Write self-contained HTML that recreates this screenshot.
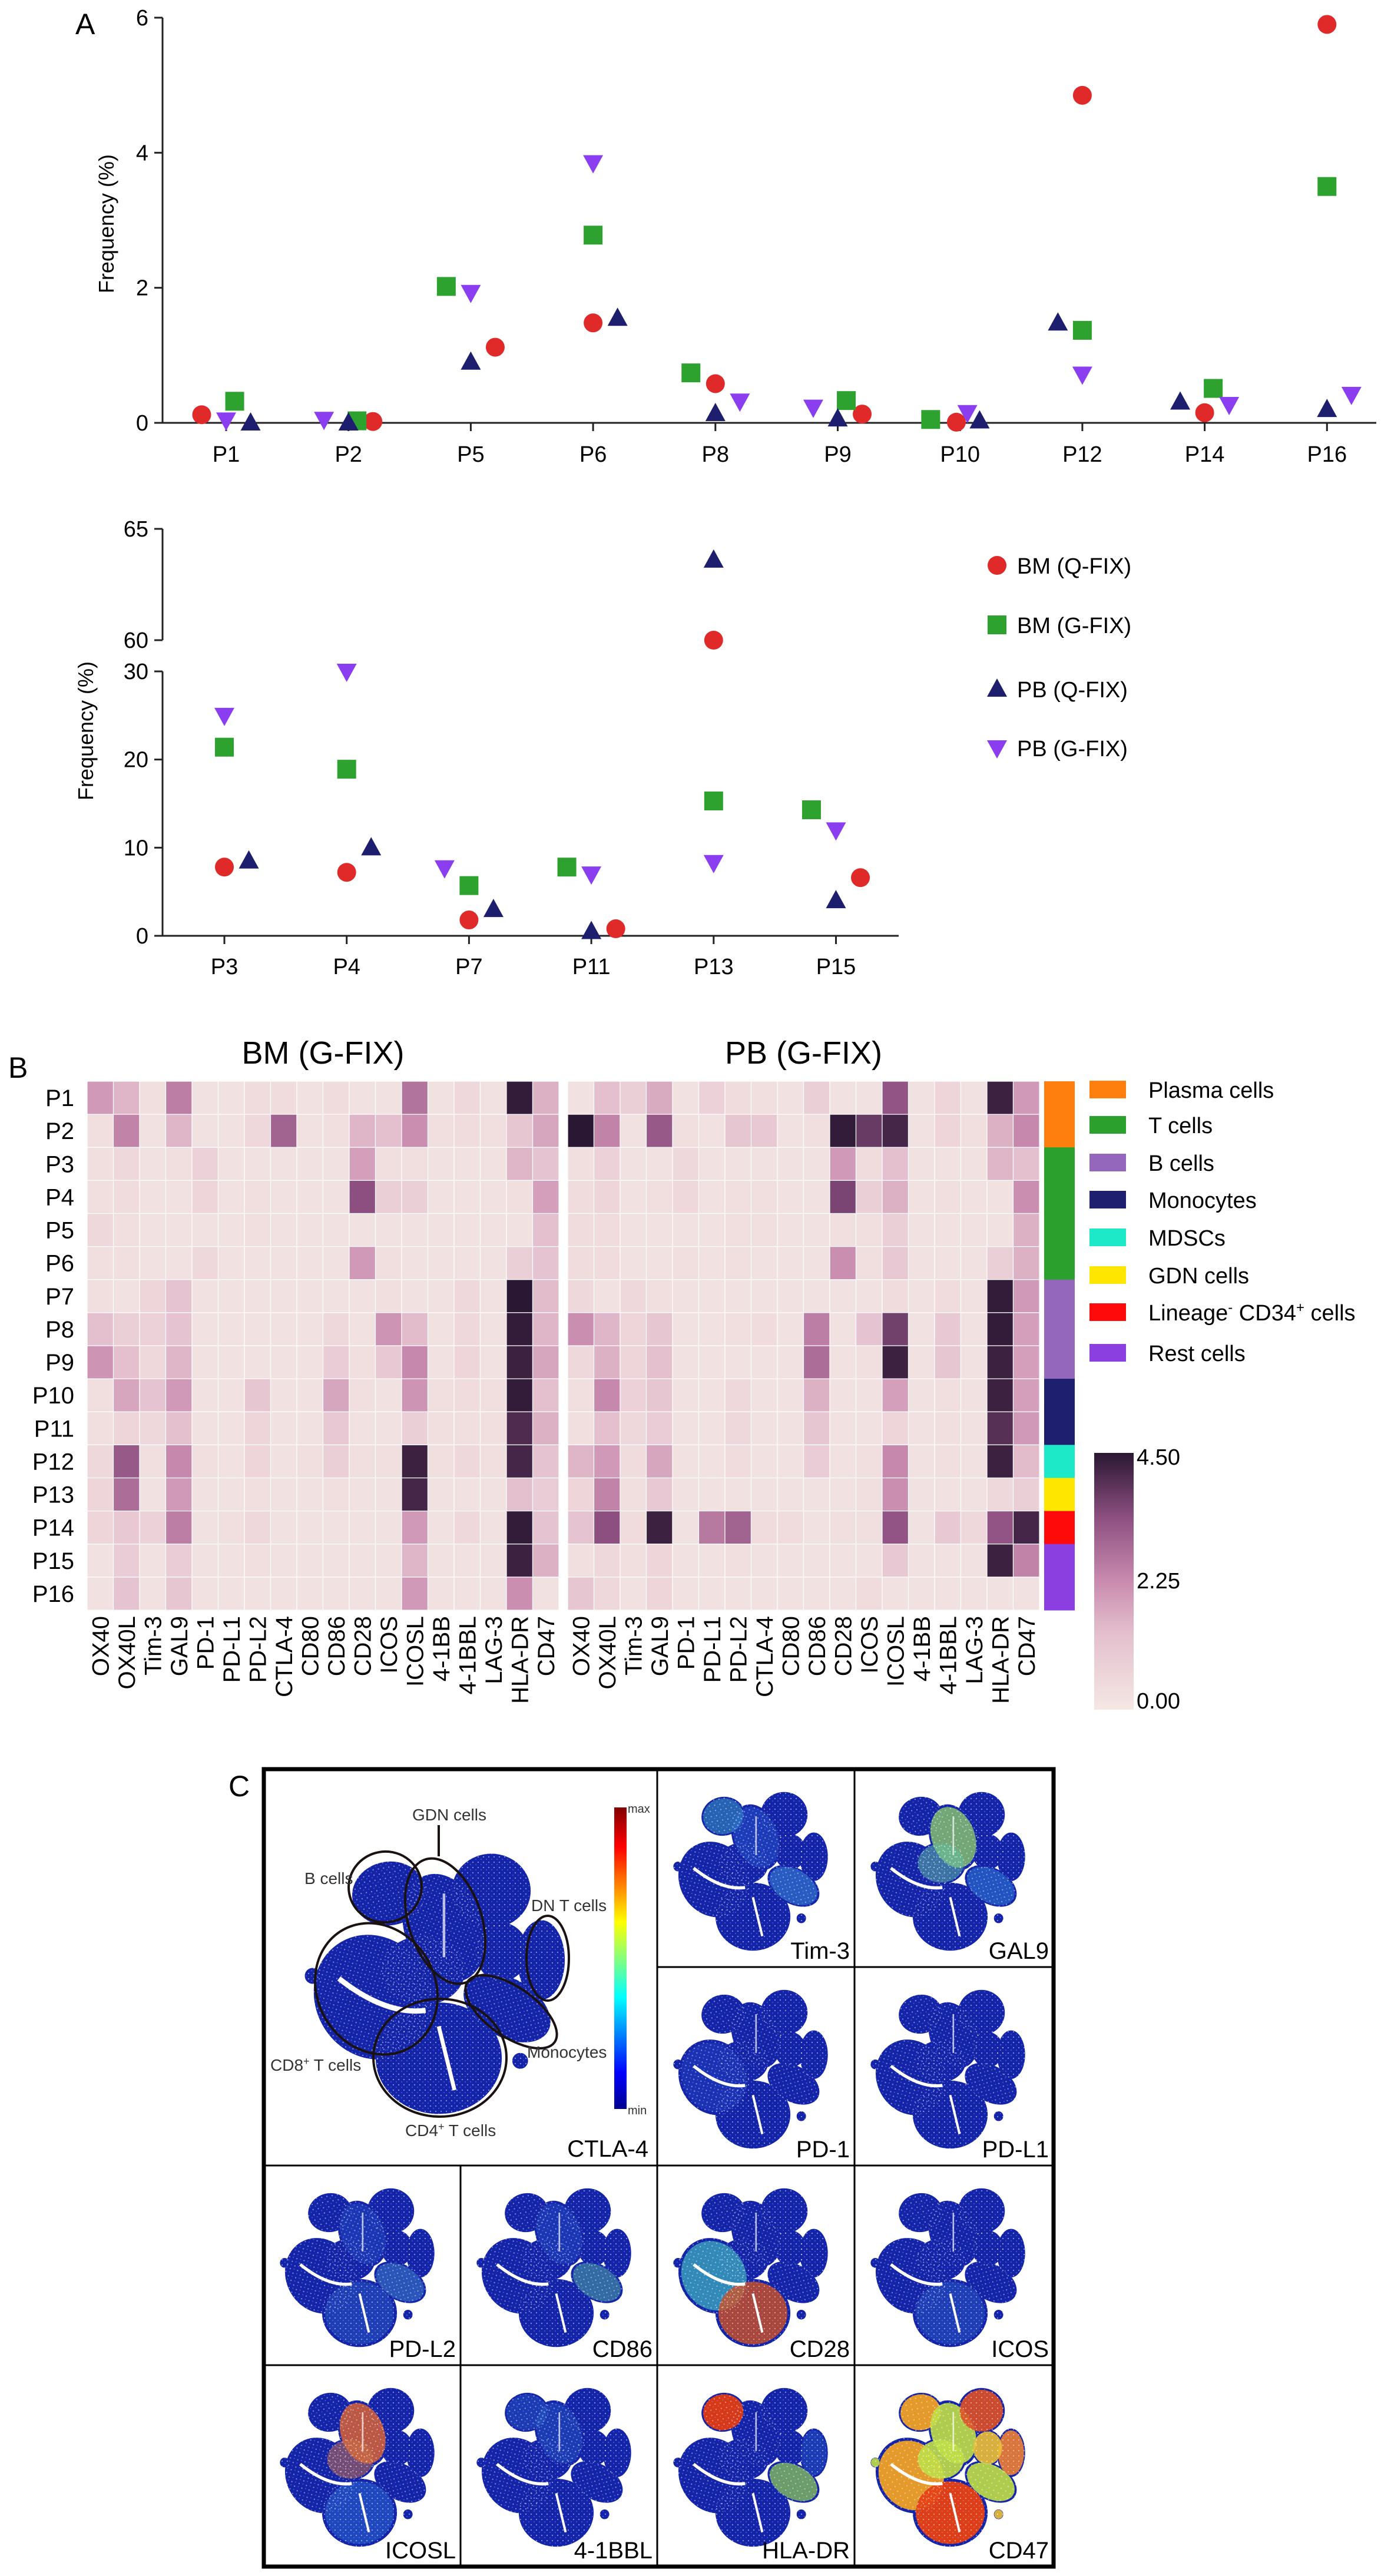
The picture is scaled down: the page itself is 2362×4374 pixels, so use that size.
<!DOCTYPE html>
<html><head><meta charset="utf-8"><style>
html,body{margin:0;padding:0;background:#fff;}
svg{display:block;font-family:"Liberation Sans",Arial,sans-serif;}
</style></head><body>
<svg id="fig" xmlns="http://www.w3.org/2000/svg" width="2362" height="4374" viewBox="0 0 2362 4374">
<defs>
<pattern id="speck" width="9" height="9" patternUnits="userSpaceOnUse"><rect width="9" height="9" fill="none"/><circle cx="2" cy="3" r="1.1" fill="#fff" opacity="0.5"/><circle cx="7" cy="7" r="0.9" fill="#9fb0ff" opacity="0.5"/></pattern>
<linearGradient id="jet" x1="0" y1="1" x2="0" y2="0"><stop offset="0" stop-color="#00008f"/><stop offset="0.12" stop-color="#0000ff"/><stop offset="0.37" stop-color="#00ffff"/><stop offset="0.62" stop-color="#ffff00"/><stop offset="0.87" stop-color="#ff0000"/><stop offset="1" stop-color="#800000"/></linearGradient>
<linearGradient id="heatbar" x1="0" y1="1" x2="0" y2="0"><stop offset="0" stop-color="#f5e7e4"/><stop offset="0.3" stop-color="#e3bfcd"/><stop offset="0.5" stop-color="#c98bae"/><stop offset="0.75" stop-color="#8c4f80"/><stop offset="1" stop-color="#2a1733"/></linearGradient>
</defs>
</svg>
<script>
// ---------- Panel A data ----------
const topCats = ["P1","P2","P5","P6","P8","P9","P10","P12","P14","P16"];
const topBMQ = [0.12,0.02,1.12,1.48,0.58,0.13,0.01,4.85,0.15,5.9];
const topBMG = [0.32,0.03,2.02,2.78,0.74,0.33,0.05,1.37,0.51,3.5];
const topPBQ = [0.0,0.0,0.9,1.55,0.14,0.06,0.03,1.48,0.31,0.2];
const topPBG = [0.04,0.05,1.93,3.85,0.32,0.23,0.15,0.72,0.27,0.42];
const topJitBMQ = [-0.2,0.2,0.2,0,0,0.2,-0.03,0,0,0];
const topJitBMG = [0.07,0.07,-0.2,0,-0.2,0.07,-0.24,0,0.07,0];
const topJitPBQ = [0.2,0,0,0.2,0,0,0.16,-0.2,-0.2,0];
const topJitPBG = [0,-0.2,0,0,0.2,-0.2,0.06,0,0.2,0.2];
const topTicks = [0,2,4,6];

const botCats = ["P3","P4","P7","P11","P13","P15"];
const botBMQ = [7.8,7.2,1.8,0.8,60,6.6];
const botBMG = [21.4,18.9,5.7,7.8,15.3,14.3];
const botPBQ = [8.5,10,3,0.5,63.6,4];
const botPBG = [25,30,7.7,7,8.3,12];
const botJitBMQ = [0,0,0,0.2,0,0.2];
const botJitBMG = [0,0,0,-0.2,0,-0.2];
const botJitPBQ = [0.2,0.2,0.2,0,0,0];
const botJitPBG = [0,0,-0.2,0,0,0];
const botTicksLow = [0,10,20,30];
const botTicksHigh = [60,65];

// ---------- Panel B data ----------
const markers = ["OX40","OX40L","Tim-3","GAL9","PD-1","PD-L1","PD-L2","CTLA-4","CD80","CD86","CD28","ICOS","ICOSL","4-1BB","4-1BBL","LAG-3","HLA-DR","CD47"];
const patients = ["P1","P2","P3","P4","P5","P6","P7","P8","P9","P10","P11","P12","P13","P14","P15","P16"];
const bmHeat = [
[2.0,1.5,0.3,2.5,0.2,0.2,0.4,0.4,0.2,0.4,0.2,0.2,2.7,0.2,0.5,0.2,4.4,1.6],
[0.3,2.4,0.2,1.5,0.2,0.2,0.5,3.0,0.2,0.3,1.5,1.3,2.2,0.3,0.4,0.3,1.1,1.8],
[0.3,0.5,0.2,0.3,0.7,0.2,0.2,0.2,0.2,0.2,1.9,0.3,0.3,0.2,0.2,0.2,1.5,1.2],
[0.3,0.4,0.2,0.2,0.6,0.2,0.3,0.2,0.2,0.2,3.4,0.8,0.8,0.2,0.2,0.2,0.3,1.9],
[0.5,0.3,0.2,0.2,0.2,0.2,0.3,0.2,0.2,0.2,0.2,0.2,0.2,0.2,0.2,0.2,0.2,1.3],
[0.3,0.3,0.2,0.2,0.5,0.2,0.2,0.2,0.2,0.2,2.0,0.3,0.2,0.2,0.2,0.2,0.8,1.2],
[0.3,0.2,0.6,1.2,0.2,0.2,0.2,0.2,0.2,0.2,0.2,0.3,0.2,0.2,0.5,0.2,4.5,1.4],
[1.3,0.8,0.7,1.2,0.2,0.2,0.2,0.2,0.2,0.5,0.2,2.1,1.4,0.2,0.5,0.2,4.4,1.5],
[2.1,1.3,0.5,1.5,0.2,0.2,0.2,0.2,0.2,0.9,0.3,1.0,2.3,0.2,0.6,0.2,4.3,1.8],
[0.3,1.8,1.2,2.0,0.2,0.2,1.1,0.2,0.2,1.8,0.3,0.2,2.1,0.3,0.4,0.3,4.4,1.3],
[0.3,0.6,0.5,1.3,0.2,0.2,0.6,0.2,0.2,1.0,0.2,0.2,0.8,0.3,0.3,0.3,4.1,1.6],
[0.5,3.2,0.3,2.3,0.3,0.2,0.6,0.2,0.3,0.8,0.3,0.3,4.3,0.3,0.5,0.3,4.2,1.2],
[0.6,2.8,0.2,2.0,0.2,0.2,0.3,0.2,0.2,0.3,0.2,0.2,4.2,0.2,0.2,0.2,1.3,0.9],
[0.6,1.0,0.7,2.5,0.2,0.3,0.5,0.2,0.2,0.2,0.2,0.2,2.0,0.2,0.5,0.2,4.4,1.2],
[0.2,0.9,0.2,0.9,0.2,0.2,0.3,0.2,0.2,0.2,0.2,0.2,1.5,0.2,0.2,0.2,4.3,1.6],
[0.2,1.2,0.2,1.1,0.2,0.2,0.2,0.2,0.2,0.2,0.2,0.2,2.0,0.2,0.2,0.2,2.2,0.2]];
const pbHeat = [
[0.2,1.3,0.8,1.7,0.2,0.7,0.4,0.3,0.2,0.8,0.2,0.2,3.3,0.2,0.6,0.2,4.3,2.0],
[4.5,2.4,0.2,3.2,0.3,0.2,1.1,1.0,0.2,0.3,4.4,3.8,4.2,0.2,0.6,0.3,1.6,2.3],
[0.3,0.7,0.2,0.2,0.5,0.2,0.2,0.2,0.2,0.2,2.0,0.4,1.3,0.2,0.2,0.2,1.5,1.3],
[0.4,0.6,0.2,0.3,0.5,0.2,0.3,0.3,0.2,0.2,3.6,0.8,1.6,0.2,0.3,0.2,0.2,2.2],
[0.4,0.4,0.2,0.2,0.2,0.2,0.3,0.3,0.2,0.2,0.3,0.3,0.8,0.2,0.2,0.2,0.2,1.6],
[0.4,0.4,0.2,0.2,0.3,0.2,0.3,0.2,0.2,0.2,2.2,0.3,1.0,0.2,0.2,0.2,0.8,1.6],
[0.5,0.2,0.5,0.3,0.2,0.2,0.2,0.2,0.2,0.2,0.2,0.2,0.4,0.2,0.4,0.2,4.4,2.0],
[2.2,1.5,0.6,1.1,0.2,0.2,0.3,0.4,0.2,2.5,0.2,1.2,3.7,0.2,1.0,0.2,4.4,1.9],
[0.5,1.6,0.6,1.3,0.2,0.2,0.2,0.2,0.2,2.8,0.2,0.3,4.3,0.2,1.1,0.2,4.3,1.9],
[0.3,2.3,0.7,1.1,0.2,0.2,0.5,0.2,0.2,1.6,0.2,0.2,1.9,0.2,0.3,0.2,4.3,1.9],
[0.3,1.3,0.5,0.9,0.2,0.2,0.5,0.2,0.2,1.1,0.2,0.2,0.6,0.2,0.3,0.2,4.0,2.0],
[1.5,2.0,0.4,1.8,0.2,0.2,0.4,0.2,0.2,0.9,0.2,0.3,2.3,0.2,0.3,0.2,4.3,1.4],
[0.6,2.4,0.3,1.0,0.2,0.2,0.2,0.2,0.2,0.2,0.2,0.3,2.2,0.2,0.2,0.2,0.5,0.8],
[1.2,3.4,0.4,4.3,0.2,2.6,3.0,0.4,0.4,0.2,0.3,0.3,3.3,0.2,1.0,0.5,3.3,4.2],
[0.3,0.5,0.3,0.6,0.2,0.2,0.3,0.2,0.2,0.2,0.2,0.2,1.0,0.2,0.2,0.2,4.3,2.4],
[1.1,0.5,0.2,0.6,0.2,0.2,0.2,0.2,0.2,0.2,0.2,0.4,0.2,0.2,0.2,0.2,0.2,0.2]];
const cellTypeOfPatient = [0,0,1,1,1,1,2,2,2,3,3,4,5,6,7,7];
const cellTypes = ["Plasma cells","T cells","B cells","Monocytes","MDSCs","GDN cells","Lineage","Rest cells"];
const heatTicks = [0,2.25,4.5];

const NS = "http://www.w3.org/2000/svg";
const svg = document.getElementById("fig");
function el(tag, attrs, parent, text){
  const e = document.createElementNS(NS, tag);
  for (const k in attrs) e.setAttribute(k, attrs[k]);
  if (text !== undefined) e.textContent = text;
  (parent || svg).appendChild(e);
  return e;
}

// ---------- markers ----------
const COL = {bmq:"#e02a2a", bmg:"#2ea22e", pbq:"#1e1e6e", pbg:"#8a3ef0"};
function marker(kind, x, y, g){
  let m;
  if (kind === "bmq") m = el("circle",{cx:x,cy:y,r:16,fill:COL.bmq},g);
  else if (kind === "bmg") m = el("rect",{x:x-16,y:y-16,width:32,height:32,fill:COL.bmg},g);
  else if (kind === "pbq") m = el("polygon",{points:`${x},${y-18} ${x+17},${y+13} ${x-17},${y+13}`,fill:COL.pbq},g);
  else m = el("polygon",{points:`${x},${y+18} ${x+17},${y-13} ${x-17},${y-13}`,fill:COL.pbg},g);
  return m;
}

// ---------- Panel A top ----------
const gTop = el("g",{});


const tX0 = 384, tDX = 207.7, tY0 = 718, tYs = 688/6;
const tx = i => tX0 + i*tDX;
const ty = v => tY0 - v*tYs;
const lblA = el("text",{x:128,y:58,"font-size":50},gTop,"A");


el("line",{x1:276,y1:ty(6),x2:276,y2:tY0,stroke:"#222","stroke-width":3},gTop);
el("line",{x1:276,y1:tY0,x2:2337,y2:tY0,stroke:"#222","stroke-width":3},gTop);
topTicks.forEach(t=>{
  el("line",{x1:262,y1:ty(t),x2:276,y2:ty(t),stroke:"#222","stroke-width":3},gTop);
  const tl = el("text",{x:252,y:ty(t)+13,"font-size":38,"text-anchor":"end"},gTop,String(t));
  
  
});
const yt1 = el("text",{x:0,y:0,"font-size":36,"text-anchor":"middle",transform:`translate(193,380) rotate(-90)`},gTop,"Frequency (%)");


topCats.forEach((c,i)=>{
  el("line",{x1:tx(i),y1:tY0,x2:tx(i),y2:tY0+14,stroke:"#222","stroke-width":3},gTop);
  const cl = el("text",{x:tx(i),y:tY0+66,"font-size":38,"text-anchor":"middle"},gTop,c);
  
  
});
[["bmq",topBMQ,topJitBMQ],["bmg",topBMG,topJitBMG],["pbq",topPBQ,topJitPBQ],["pbg",topPBG,topJitPBG]].forEach(([k,vals,jit])=>{
  vals.forEach((v,i)=>{
    const m = marker(k, tx(i+jit[i]), ty(v), gTop);
    
    
  });
});

// ---------- Panel A bottom ----------
const gBot = el("g",{});


const bX0 = 381, bDX = 207.7;
const bx = i => bX0 + i*bDX;
const by = v => v <= 30 ? 1589 - v*(449/30) : 1087 - (v-60)*(189/5);
el("line",{x1:276,y1:by(30),x2:276,y2:1589,stroke:"#222","stroke-width":3},gBot);
el("line",{x1:276,y1:by(65),x2:276,y2:by(60),stroke:"#222","stroke-width":3},gBot);
el("line",{x1:276,y1:1589,x2:1526,y2:1589,stroke:"#222","stroke-width":3},gBot);
botTicksLow.concat(botTicksHigh).forEach(t=>{
  el("line",{x1:262,y1:by(t),x2:276,y2:by(t),stroke:"#222","stroke-width":3},gBot);
  const tl = el("text",{x:252,y:by(t)+13,"font-size":38,"text-anchor":"end"},gBot,String(t));
  
  
});
const yt2 = el("text",{x:0,y:0,"font-size":36,"text-anchor":"middle",transform:`translate(158,1241) rotate(-90)`},gBot,"Frequency (%)");


botCats.forEach((c,i)=>{
  el("line",{x1:bx(i),y1:1589,x2:bx(i),y2:1603,stroke:"#222","stroke-width":3},gBot);
  const cl = el("text",{x:bx(i),y:1654,"font-size":38,"text-anchor":"middle"},gBot,c);
  
  
});
[["bmq",botBMQ,botJitBMQ],["bmg",botBMG,botJitBMG],["pbq",botPBQ,botJitPBQ],["pbg",botPBG,botJitPBG]].forEach(([k,vals,jit])=>{
  vals.forEach((v,i)=>{
    const m = marker(k, bx(i+jit[i]), by(v), gBot);
    
    
  });
});
const legNames = ["BM (Q-FIX)","BM (G-FIX)","PB (Q-FIX)","PB (G-FIX)"];
const legKinds = ["bmq","bmg","pbq","pbg"];
const legY = [960,1061,1170,1270];
legNames.forEach((n,i)=>{
  const g = el("g",{},gBot);
  
  
  marker(legKinds[i], 1693, legY[i], g);
  el("text",{x:1727,y:legY[i]+14,"font-size":38},g,n);
});

// ---------- Panel B heatmap ----------
const gH = el("g",{});


const lblB = el("text",{x:14,y:1830,"font-size":50},gH,"B");


const hStops = [[0,[245,231,228]],[1.35,[227,191,205]],[2.25,[201,139,174]],[3.4,[140,79,128]],[4.5,[42,23,51]]];
function hcol(v){
  v = Math.max(0,Math.min(4.5,v));
  for (let i=0;i<hStops.length-1;i++){
    const [a,ca]=hStops[i],[b,cb]=hStops[i+1];
    if (v<=b){const t=(v-a)/(b-a);return `rgb(${ca.map((c,j)=>Math.round(c+(cb[j]-c)*t)).join(",")})`;}
  }
  return "rgb(42,23,51)";
}
const hY0 = 1836, hRH = (2734-1836)/16, hCW = 44.5;
const panelsX = [148, 964];
const panelTitles = ["BM (G-FIX)","PB (G-FIX)"];
[bmHeat,pbHeat].forEach((mat,p)=>{
  const g = el("g",{},gH);
  
  
  const x0 = panelsX[p];
  const tt = el("text",{x:x0+18*hCW/2,y:1806,"font-size":54,"text-anchor":"middle"},g,panelTitles[p]);
  
  
  mat.forEach((row,r)=>row.forEach((v,c)=>{
    const cell = el("rect",{x:x0+c*hCW,y:hY0+r*hRH,width:hCW,height:hRH,fill:hcol(v),stroke:"#fff","stroke-width":1.2},g);
    
    
  }));
  markers.forEach((m,c)=>{
    const cx = x0+c*hCW+hCW/2;
    const t = el("text",{x:0,y:0,"font-size":40,"text-anchor":"end",transform:`translate(${cx+14},2744) rotate(-90)`},g,m);
    
    
  });
});
patients.forEach((pn,r)=>{
  const t = el("text",{x:126,y:hY0+r*hRH+hRH/2+14,"font-size":40,"text-anchor":"end"},gH,pn);
  
  
});
const typeColors = ["#ff7f0e","#2ca02c","#9467bd","#1f1f70","#1de9c8","#ffe600","#ff0a0a","#8b3fe0"];
cellTypeOfPatient.forEach((t,r)=>{
  const a = el("rect",{x:1773,y:hY0+r*hRH,width:52,height:hRH+0.5,fill:typeColors[t]},gH);
  
  
});
const ctY = [1850,1910,1974,2037,2101,2165,2228,2297];
cellTypes.forEach((n,i)=>{
  const g = el("g",{},gH);
  
  
  el("rect",{x:1850,y:ctY[i]-15,width:62,height:30,fill:typeColors[i]},g);
  if (i===6){
    const t = el("text",{x:1950,y:ctY[i]+14,"font-size":38},g);
    t.appendChild(document.createTextNode("Lineage"));
    el("tspan",{dy:-14,"font-size":24},t,"-");
    el("tspan",{dy:14,"font-size":38},t," CD34");
    el("tspan",{dy:-14,"font-size":24},t,"+");
    el("tspan",{dy:14,"font-size":38},t," cells");
  } else el("text",{x:1950,y:ctY[i]+14,"font-size":38},g,n);
});
const cb = el("rect",{x:1858,y:2467,width:67,height:436,fill:"url(#heatbar)"},gH);


heatTicks.forEach(t=>{
  const y = 2903 - t/4.5*436;
  const tl = el("text",{x:1930,y:y+(t===4.5?20:t===0?-2:12),"font-size":38},gH,t.toFixed(2));
  
  
});

// ---------- Panel C tSNE ----------
const gC = el("g",{});


const lblC = el("text",{x:388,y:3050,"font-size":50},gC,"C");


const clusters = [[0.31,0.16,0.14,0.12,-10],[0.52,0.29,0.15,0.21,-20],[0.70,0.15,0.15,0.14,0],[0.89,0.41,0.09,0.15,0],[0.74,0.38,0.10,0.11,0],[0.25,0.55,0.22,0.24,-30],[0.76,0.59,0.18,0.11,30],[0.50,0.78,0.24,0.21,0],[0.44,0.45,0.16,0.13,0],[0.02,0.47,0.03,0.03,0],[0.81,0.79,0.03,0.03,0]];
function blob(x,y,w,h,hot,parent){
  const g = el("g",{},parent);
  
  
  clusters.forEach(c=>{
    el("ellipse",{cx:x+c[0]*w,cy:y+c[1]*h,rx:c[2]*w,ry:c[3]*h,fill:"#1424a8",transform:`rotate(${c[4]} ${x+c[0]*w} ${y+c[1]*h})`},g);
  });
  (hot||[]).forEach(([i,col,op])=>{
    const c = clusters[i];
    el("ellipse",{cx:x+c[0]*w,cy:y+c[1]*h,rx:c[2]*w*0.92,ry:c[3]*h*0.92,fill:col,opacity:op,transform:`rotate(${c[4]} ${x+c[0]*w} ${y+c[1]*h})`},g);
  });
  clusters.forEach(c=>{
    el("ellipse",{cx:x+c[0]*w,cy:y+c[1]*h,rx:c[2]*w,ry:c[3]*h,fill:"url(#speck)",transform:`rotate(${c[4]} ${x+c[0]*w} ${y+c[1]*h})`},g);
  });
  el("path",{d:`M${x+0.12*w} ${y+0.48*h} Q ${x+0.3*w} ${y+0.62*h} ${x+0.45*w} ${y+0.6*h}`,stroke:"#fff","stroke-width":w*0.02,fill:"none"},g);
  el("path",{d:`M${x+0.5*w} ${y+0.66*h} L ${x+0.56*w} ${y+0.9*h}`,stroke:"#fff","stroke-width":w*0.015,fill:"none"},g);
  el("path",{d:`M${x+0.52*w} ${y+0.16*h} L ${x+0.52*w} ${y+0.4*h}`,stroke:"#fff","stroke-width":w*0.01,fill:"none",opacity:0.7},g);
  return g;
}
const colX = [448,782,1116,1451,1789], rowY = [3004,3340,3677,4016,4358];
el("rect",{x:448,y:3004,width:1341,height:1354,fill:"none",stroke:"#000","stroke-width":7},gC);
el("line",{x1:1116,y1:3004,x2:1116,y2:4358,stroke:"#000","stroke-width":3},gC);
el("line",{x1:1451,y1:3004,x2:1451,y2:4358,stroke:"#000","stroke-width":3},gC);
el("line",{x1:782,y1:3677,x2:782,y2:4358,stroke:"#000","stroke-width":3},gC);
el("line",{x1:1116,y1:3340,x2:1789,y2:3340,stroke:"#000","stroke-width":3},gC);
el("line",{x1:448,y1:3677,x2:1789,y2:3677,stroke:"#000","stroke-width":3},gC);
el("line",{x1:448,y1:4016,x2:1789,y2:4016,stroke:"#000","stroke-width":3},gC);
blob(522,3143,446,451,[],gC);
[[654,3204,62,60,-10],[756,3262,62,110,-18],[639,3377,100,115,-30],[868,3416,90,42,35],[930,3325,36,72,0],[747,3494,113,100,0]].forEach(e=>{
  const o = el("ellipse",{cx:e[0],cy:e[1],rx:e[2],ry:e[3],fill:"none",stroke:"#1a1210","stroke-width":4,transform:`rotate(${e[4]} ${e[0]} ${e[1]})`},gC);
  
  
});
el("line",{x1:745,y1:3099,x2:745,y2:3152,stroke:"#1a1210","stroke-width":4},gC);
[["GDN cells",763,3091,"middle"],["B cells",517,3199,"start"],["DN T cells",902,3245,"start"],["Monocytes",895,3494,"start"],["CD4",742,3627,"middle"],["CD8",459,3516,"start"]].forEach(a=>{
  const t = el("text",{x:a[1],y:a[2],"font-size":28,"text-anchor":a[3],fill:"#333"},gC,a[0]);
  if (a[0]==="CD4"){ t.textContent=""; t.setAttribute("x",688); t.setAttribute("text-anchor","start"); t.appendChild(document.createTextNode("CD4")); el("tspan",{dy:-10,"font-size":18},t,"+"); el("tspan",{dy:10,"font-size":28},t," T cells"); }
  if (a[0]==="CD8"){ t.textContent=""; t.appendChild(document.createTextNode("CD8")); el("tspan",{dy:-10,"font-size":18},t,"+"); el("tspan",{dy:10,"font-size":28},t," T cells"); }
  
  
});
const jb = el("rect",{x:1043,y:3069,width:21,height:512,fill:"url(#jet)"},gC);


el("text",{x:1066,y:3078,"font-size":20,fill:"#333"},gC,"max");
el("text",{x:1066,y:3590,"font-size":20,fill:"#333"},gC,"min");
el("text",{x:1101,y:3662,"font-size":40,"text-anchor":"end"},gC,"CTLA-4");
const smallPanels = [
 ["Tim-3",2,0,[[0,'#3ab0c0',0.45],[6,'#40a0e0',0.45],[1,'#3070e0',0.3]]],
 ["GAL9",3,0,[[1,'#9adf60',0.7],[8,'#60c0a0',0.5],[6,'#3090e0',0.45]]],
 ["PD-1",2,1,[[5,'#3050d0',0.3]]],
 ["PD-L1",3,1,[]],
 ["PD-L2",0,2,[[6,'#4aa0d0',0.4],[7,'#3070d0',0.35],[1,'#3060d0',0.3]]],
 ["CD86",1,2,[[6,'#50b0a0',0.5],[1,'#3060d0',0.3]]],
 ["CD28",2,2,[[5,'#40c0c0',0.65],[7,'#d05020',0.8]]],
 ["ICOS",3,2,[[7,'#3070d0',0.35]]],
 ["ICOSL",0,3,[[1,'#d86030',0.85],[8,'#d07040',0.5],[7,'#3080e0',0.4]]],
 ["4-1BBL",1,3,[[0,'#3070d0',0.3],[1,'#3070d0',0.3]]],
 ["HLA-DR",2,3,[[0,'#e03a10',0.95],[6,'#90d050',0.7],[3,'#3070d0',0.3]]],
 ["CD47",3,3,[[0,'#f0a020',.95],[1,'#c0e040',.9],[2,'#e05020',.9],[3,'#f08030',.9],[4,'#f0c030',.9],[5,'#f0a020',.95],[6,'#c0e040',.9],[7,'#e84010',.95],[8,'#c0e040',.9],[9,'#c0e040',.9],[10,'#f0c030',.9]]]
];
smallPanels.forEach(([name,c,r,hot])=>{
  const g = el("g",{},gC);
  
  
  const x = colX[c], y = rowY[r], w = colX[c+1]-x;
  blob(x+30,y+36,265,275,hot,g);
  el("text",{x:x+w-8,y:rowY[r+1]-14,"font-size":40,"text-anchor":"end"},g,name);
});
</script>
</body></html>
